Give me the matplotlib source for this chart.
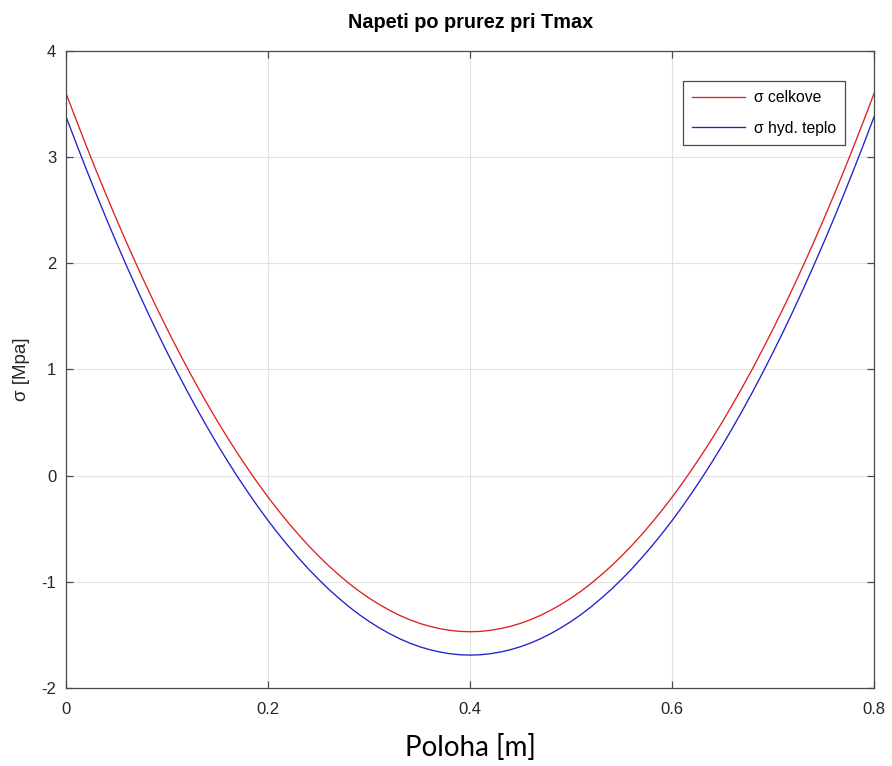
import matplotlib.pyplot as plt

# position along the cross-section [m]
poloha = [0.00, 0.01, 0.02, 0.03, 0.04, 0.05, 0.06, 0.07, 0.08, 0.09,
          0.10, 0.11, 0.12, 0.13, 0.14, 0.15, 0.16, 0.17, 0.18, 0.19,
          0.20, 0.21, 0.22, 0.23, 0.24, 0.25, 0.26, 0.27, 0.28, 0.29,
          0.30, 0.31, 0.32, 0.33, 0.34, 0.35, 0.36, 0.37, 0.38, 0.39,
          0.40, 0.41, 0.42, 0.43, 0.44, 0.45, 0.46, 0.47, 0.48, 0.49,
          0.50, 0.51, 0.52, 0.53, 0.54, 0.55, 0.56, 0.57, 0.58, 0.59,
          0.60, 0.61, 0.62, 0.63, 0.64, 0.65, 0.66, 0.67, 0.68, 0.69,
          0.70, 0.71, 0.72, 0.73, 0.74, 0.75, 0.76, 0.77, 0.78, 0.79,
          0.80]

# total stress [MPa]
sigma_celkove = [3.600, 3.350, 3.106, 2.868, 2.637, 2.412, 2.193, 1.981, 1.775, 1.575,
                 1.382, 1.195, 1.014, 0.840, 0.672, 0.510, 0.355, 0.206, 0.064, -0.073,
                 -0.203, -0.326, -0.443, -0.554, -0.659, -0.757, -0.849, -0.934, -1.014, -1.087,
                 -1.153, -1.213, -1.267, -1.315, -1.356, -1.391, -1.419, -1.441, -1.457, -1.467,
                 -1.470, -1.467, -1.457, -1.441, -1.419, -1.391, -1.356, -1.315, -1.267, -1.213,
                 -1.153, -1.087, -1.014, -0.934, -0.849, -0.757, -0.659, -0.554, -0.443, -0.326,
                 -0.203, -0.073, 0.064, 0.206, 0.355, 0.510, 0.672, 0.840, 1.014, 1.195,
                 1.382, 1.575, 1.775, 1.981, 2.193, 2.412, 2.637, 2.868, 3.106, 3.350,
                 3.600]

# hydration heat stress [MPa]
sigma_hyd = [3.380, 3.130, 2.886, 2.648, 2.417, 2.192, 1.973, 1.761, 1.555, 1.355,
             1.162, 0.975, 0.794, 0.620, 0.452, 0.290, 0.135, -0.014, -0.156, -0.293,
             -0.423, -0.546, -0.663, -0.774, -0.879, -0.977, -1.069, -1.154, -1.234, -1.307,
             -1.373, -1.433, -1.487, -1.535, -1.576, -1.611, -1.639, -1.661, -1.677, -1.687,
             -1.690, -1.687, -1.677, -1.661, -1.639, -1.611, -1.576, -1.535, -1.487, -1.433,
             -1.373, -1.307, -1.234, -1.154, -1.069, -0.977, -0.879, -0.774, -0.663, -0.546,
             -0.423, -0.293, -0.156, -0.014, 0.135, 0.290, 0.452, 0.620, 0.794, 0.975,
             1.162, 1.355, 1.555, 1.761, 1.973, 2.192, 2.417, 2.648, 2.886, 3.130,
             3.380]

x_ticks = [0, 0.2, 0.4, 0.6, 0.8]
x_labels = ['0', '0.2', '0.4', '0.6', '0.8']
y_ticks = [-2, -1, 0, 1, 2, 3, 4]

plt.rcParams['font.family'] = ['Liberation Sans', 'DejaVu Sans']
plt.rcParams['axes.unicode_minus'] = False

fig = plt.figure(figsize=(8.92, 7.66), dpi=100)
ax = fig.add_axes([0.074, 0.1018, 0.906, 0.832])

ax.plot(poloha, sigma_celkove, color='#dd2020', lw=0.95, label='σ celkove')
ax.plot(poloha, sigma_hyd, color='#2020cc', lw=0.95, label='σ hyd. teplo')

ax.set_xlim(0, 0.8)
ax.set_ylim(-2, 4)
ax.set_xticks(x_ticks)
ax.set_xticklabels(x_labels)
ax.set_yticks(y_ticks)
ax.grid(True, color='#e2e2e2', lw=0.8)
ax.set_axisbelow(True)

for s in ax.spines.values():
    s.set_color('#4a4a4a')
    s.set_linewidth(0.9)
ax.tick_params(direction='in', length=5, width=0.9, color='#4a4a4a',
               top=True, right=True, labelsize=12, labelcolor='#262626')
ax.tick_params(axis='x', pad=10)
ax.tick_params(axis='y', pad=7)

ax.set_title('Napeti po prurez pri Tmax', fontsize=14.3, fontweight='bold', pad=16)
ax.set_ylabel('σ [Mpa]', fontsize=13.5, color='#262626', labelpad=8)
ax.set_xlabel('Poloha [m]', fontsize=20, family=['Lato', 'DejaVu Sans'],
              labelpad=12)

leg = ax.legend(loc='upper right', bbox_to_anchor=(0.9645, 0.953),
                borderaxespad=0, fontsize=11.3, handlelength=3.35,
                handletextpad=0.6, labelspacing=1.0, borderpad=0.6,
                fancybox=False, framealpha=1)
leg.get_frame().set_edgecolor('#4a4a4a')
leg.get_frame().set_linewidth(0.9)

plt.savefig('out.png', dpi=100)
